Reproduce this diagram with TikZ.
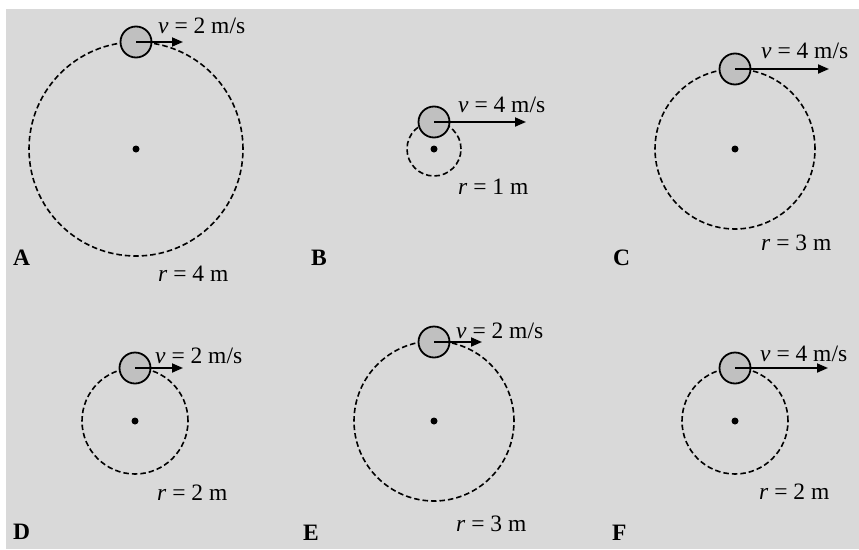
\documentclass[tikz,border=0pt]{standalone}
\usepackage{fontspec}
\setmainfont{Liberation Serif}
\usetikzlibrary{arrows.meta}
\definecolor{bggray}{RGB}{217,217,217}
\definecolor{ballgray}{RGB}{192,192,192}
\begin{document}
\begin{tikzpicture}[x=1pt,y=-1pt,
  orbit/.style={circle, draw=black, line width=1.6pt, dash pattern=on 5.5pt off 3pt, inner sep=0pt},
  ball/.style={circle, draw=black, line width=1.8pt, fill=ballgray, minimum size=31pt, inner sep=0pt},
  hub/.style={circle, fill=black, minimum size=7pt, inner sep=0pt},
  vel/.style={line width=1.8pt, -{Triangle[length=11pt,width=9pt]}},
  lab/.style={anchor=base west, inner sep=0pt, font=\fontsize{23.5}{28}\selectfont},
  tag/.style={anchor=base west, inner sep=0pt, font=\fontsize{23.5}{28}\selectfont\bfseries}]
\useasboundingbox (0,0) rectangle (859,549);
\fill[bggray] (6,9) rectangle (859,549);
% A
\node[orbit, minimum size=214pt] (oA) at (136,149) {};
\node[hub] (cA) at (136,149) {};
\node[ball] (bA) at (136,42) {};
\coordinate (tA) at (183,42);
\draw[vel] (bA.center) -- (tA);
\node[lab] (vA) at (158,33) {\textit{v} = 2 m/s};
\node[lab] (rA) at (158,281) {\textit{r} = 4 m};
\node[tag] (gA) at (13,265) {A};
% B
\node[orbit, minimum size=54pt] (oB) at (434,149) {};
\node[hub] (cB) at (434,149) {};
\node[ball] (bB) at (434,122) {};
\coordinate (tB) at (526,122);
\draw[vel] (bB.center) -- (tB);
\node[lab] (vB) at (458,112) {\textit{v} = 4 m/s};
\node[lab] (rB) at (458,194) {\textit{r} = 1 m};
\node[tag] (gB) at (311,265) {B};
% C
\node[orbit, minimum size=160pt] (oC) at (735,149) {};
\node[hub] (cC) at (735,149) {};
\node[ball] (bC) at (735,69) {};
\coordinate (tC) at (829,69);
\draw[vel] (bC.center) -- (tC);
\node[lab] (vC) at (761,58) {\textit{v} = 4 m/s};
\node[lab] (rC) at (761,250) {\textit{r} = 3 m};
\node[tag] (gC) at (613,265) {C};
% D
\node[orbit, minimum size=106pt] (oD) at (135,421) {};
\node[hub] (cD) at (135,421) {};
\node[ball] (bD) at (135,368) {};
\coordinate (tD) at (183,368);
\draw[vel] (bD.center) -- (tD);
\node[lab] (vD) at (155,363) {\textit{v} = 2 m/s};
\node[lab] (rD) at (157,500) {\textit{r} = 2 m};
\node[tag] (gD) at (13,539) {D};
% E
\node[orbit, minimum size=160pt] (oE) at (434,421) {};
\node[hub] (cE) at (434,421) {};
\node[ball] (bE) at (434,342) {};
\coordinate (tE) at (482,342);
\draw[vel] (bE.center) -- (tE);
\node[lab] (vE) at (456,338) {\textit{v} = 2 m/s};
\node[lab] (rE) at (456,531) {\textit{r} = 3 m};
\node[tag] (gE) at (303,540) {E};
% F
\node[orbit, minimum size=106pt] (oF) at (735,421) {};
\node[hub] (cF) at (735,421) {};
\node[ball] (bF) at (735,368) {};
\coordinate (tF) at (828,368);
\draw[vel] (bF.center) -- (tF);
\node[lab] (vF) at (760,361) {\textit{v} = 4 m/s};
\node[lab] (rF) at (759,499) {\textit{r} = 2 m};
\node[tag] (gF) at (612,540) {F};
\end{tikzpicture}
\end{document}
